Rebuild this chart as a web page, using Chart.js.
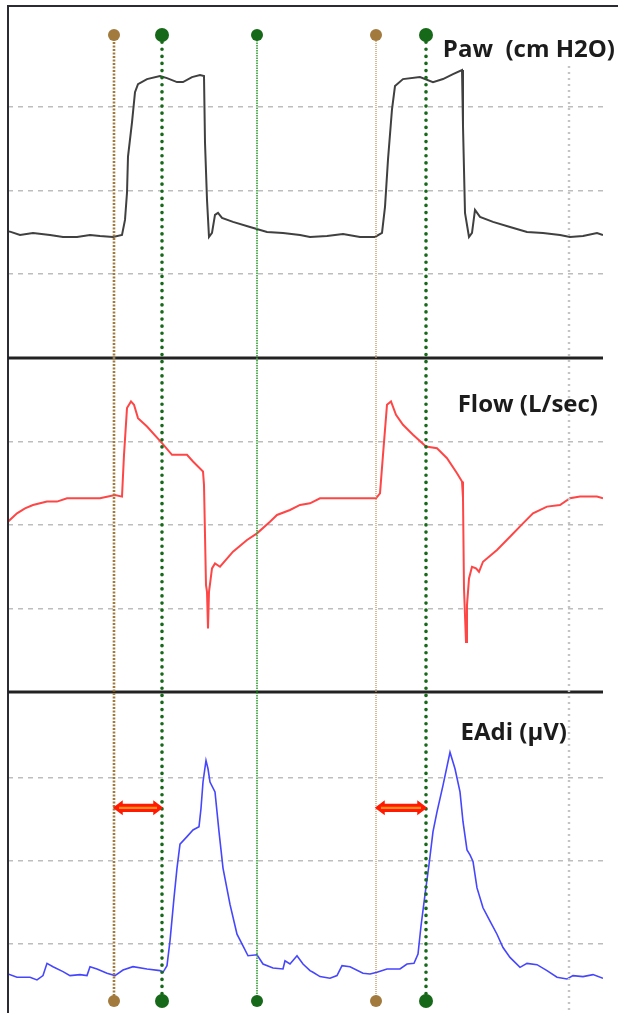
<!DOCTYPE html>
<html>
<head>
<meta charset="utf-8">
<script src="https://cdn.jsdelivr.net/npm/chart.js@4.4.1/dist/chart.umd.min.js"></script>
<style>
  html, body { margin: 0; padding: 0; background: #fff; }
  #wrap { width: 620px; height: 1013px; }
</style>
</head>
<body>
<div id="wrap"><canvas id="chart" width="620" height="1013"></canvas></div>
<script>
// time in seconds, values in the panel units
const pawTime = [0, 0.02, 0.12, 0.25, 0.42, 0.55, 0.69, 0.82, 0.92, 1.05, 1.14, 1.17, 1.19, 1.20, 1.24, 1.27, 1.30, 1.39, 1.52, 1.59, 1.69, 1.75, 1.84, 1.92, 1.96, 1.97, 1.99, 2.01, 2.04, 2.07, 2.10, 2.14, 2.25, 2.42, 2.59, 2.75, 2.92, 3.02, 3.19, 3.35, 3.52, 3.67, 3.74, 3.77, 3.80, 3.84, 3.87, 3.95, 4.12, 4.25, 4.35, 4.45, 4.54, 4.55, 4.57, 4.61, 4.64, 4.67, 4.72, 4.85, 5.02, 5.19, 5.35, 5.52, 5.62, 5.75, 5.89, 5.95];
const pawValues = [5.1, 5.08, 4.68, 4.92, 4.68, 4.44, 4.44, 4.68, 4.56, 4.44, 4.68, 6.48, 9.72, 14.04, 18.12, 21.72, 22.68, 23.28, 23.64, 23.4, 22.92, 22.92, 23.52, 23.76, 23.64, 15.72, 8.88, 4.44, 4.92, 7.08, 7.32, 6.72, 6.24, 5.64, 5.04, 4.92, 4.68, 4.44, 4.56, 4.8, 4.44, 4.44, 4.92, 8.04, 13.68, 19.68, 22.44, 23.28, 23.52, 22.92, 23.28, 23.88, 24.36, 17.64, 7.32, 4.44, 4.92, 7.68, 6.84, 6.24, 5.64, 5.04, 4.92, 4.68, 4.44, 4.56, 4.92, 4.68];

const flowTime = [0, 0.09, 0.17, 0.25, 0.39, 0.49, 0.59, 0.92, 1.07, 1.14, 1.16, 1.19, 1.23, 1.26, 1.30, 1.39, 1.54, 1.64, 1.79, 1.85, 1.95, 1.96, 1.98, 1.99, 2.00, 2.01, 2.04, 2.07, 2.12, 2.25, 2.39, 2.49, 2.62, 2.69, 2.82, 2.92, 3.02, 3.12, 3.35, 3.68, 3.72, 3.75, 3.79, 3.83, 3.88, 3.95, 4.05, 4.18, 4.29, 4.39, 4.49, 4.54, 4.55, 4.56, 4.58, 4.59, 4.61, 4.64, 4.68, 4.71, 4.75, 4.89, 5.02, 5.15, 5.25, 5.39, 5.52, 5.62, 5.72, 5.89, 5.95];
const flowValues = [0.02, 0.07, 0.10, 0.12, 0.14, 0.14, 0.16, 0.16, 0.18, 0.17, 0.42, 0.70, 0.74, 0.72, 0.64, 0.59, 0.49, 0.42, 0.42, 0.38, 0.32, 0.24, -0.36, -0.40, -0.62, -0.40, -0.26, -0.23, -0.25, -0.16, -0.09, -0.05, 0.02, 0.06, 0.09, 0.12, 0.13, 0.16, 0.16, 0.16, 0.19, 0.42, 0.72, 0.74, 0.66, 0.60, 0.54, 0.47, 0.46, 0.40, 0.31, 0.26, 0.16, -0.38, -0.70, -0.48, -0.32, -0.25, -0.26, -0.28, -0.22, -0.15, -0.07, 0.01, 0.07, 0.11, 0.12, 0.16, 0.17, 0.17, 0.16];

const eadiTime = [0, 0.09, 0.22, 0.29, 0.35, 0.39, 0.45, 0.55, 0.62, 0.72, 0.79, 0.82, 0.89, 0.99, 1.07, 1.15, 1.25, 1.39, 1.52, 1.55, 1.59, 1.62, 1.66, 1.69, 1.72, 1.79, 1.85, 1.91, 1.93, 1.95, 1.98, 2.00, 2.02, 2.07, 2.11, 2.15, 2.22, 2.29, 2.35, 2.40, 2.49, 2.55, 2.65, 2.75, 2.77, 2.82, 2.89, 2.95, 3.02, 3.05, 3.12, 3.22, 3.29, 3.34, 3.42, 3.55, 3.62, 3.69, 3.79, 3.92, 3.99, 4.06, 4.10, 4.13, 4.17, 4.21, 4.25, 4.29, 4.35, 4.42, 4.47, 4.52, 4.55, 4.59, 4.62, 4.65, 4.69, 4.75, 4.82, 4.89, 4.95, 5.02, 5.12, 5.19, 5.29, 5.39, 5.49, 5.59, 5.65, 5.75, 5.85, 5.95];
const eadiValues = [3.16, 2.96, 2.96, 2.8, 3.06, 3.8, 3.6, 3.3, 3.06, 3.12, 3.06, 3.6, 3.46, 3.2, 3.06, 3.4, 3.6, 3.46, 3.36, 3.26, 3.66, 5.16, 7.76, 9.56, 11.0, 11.46, 11.86, 12.06, 13.16, 14.76, 16.06, 15.56, 14.76, 14.16, 11.76, 9.56, 7.36, 5.56, 4.86, 4.26, 4.32, 3.76, 3.52, 3.46, 3.96, 3.76, 4.26, 3.76, 3.36, 3.26, 3.0, 2.9, 3.06, 3.66, 3.6, 3.2, 3.16, 3.26, 3.46, 3.46, 3.76, 3.8, 4.36, 6.06, 7.96, 9.76, 11.76, 12.96, 14.56, 16.56, 15.56, 14.16, 12.36, 10.66, 10.36, 9.96, 8.36, 7.16, 6.36, 5.56, 4.76, 4.16, 3.56, 3.8, 3.72, 3.36, 2.96, 2.86, 3.06, 3.0, 3.12, 2.9];

const pawTicks = [0, 10, 20];
const flowTicks = [-0.5, 0, 0.5];
const eadiTicks = [5, 10, 15];

// cursors: brown = start of effort, green = ventilator trigger
const cursorTimes = [1.06, 1.54, 2.49, 3.68, 4.18];
const cursorKinds = ['brown', 'green', 'thin', 'brownThin', 'green'];
const dottedGridTime = 5.61;
const delayPairs = [[1.06, 1.54], [3.68, 4.18]];
const panelLabels = ['Paw  (cm H2O)', 'Flow (L/sec)', 'EAdi (µV)'];

function toPoints(xs, ys) {
  return xs.map((t, i) => ({ x: t, y: ys[i] }));
}

const cursorStyle = {
  brown:     { color: '#a27a3e', dot: '#a27a3e', width: 2.6, dash: [2, 1.5], cap: 'butt', r: 6 },
  brownThin: { color: '#c4955c', dot: '#a27a3e', width: 1.3, dash: [1, 1], cap: 'butt', r: 6 },
  green:     { color: '#17691a', dot: '#17691a', width: 3.6, dash: [0.1, 7], cap: 'round', r: 7 },
  thin:      { color: '#2f9e2f', dot: '#17691a', width: 1.6, dash: [1.5, 1], cap: 'butt', r: 6 }
};

function drawArrow(ctx, x1, x2, y) {
  const h = 6, s = 3.4, len = 8;
  ctx.beginPath();
  ctx.moveTo(x1, y);
  ctx.lineTo(x1 + len, y - h);
  ctx.lineTo(x1 + len, y - s);
  ctx.lineTo(x2 - len, y - s);
  ctx.lineTo(x2 - len, y - h);
  ctx.lineTo(x2, y);
  ctx.lineTo(x2 - len, y + h);
  ctx.lineTo(x2 - len, y + s);
  ctx.lineTo(x1 + len, y + s);
  ctx.lineTo(x1 + len, y + h);
  ctx.closePath();
  ctx.fillStyle = '#ff1a00';
  ctx.fill();
  ctx.strokeStyle = '#ff1a00';
  ctx.lineWidth = 1.5;
  ctx.stroke();
  ctx.strokeStyle = '#ff8c1a';
  ctx.lineWidth = 2.2;
  ctx.beginPath();
  ctx.moveTo(x1 + 5, y);
  ctx.lineTo(x2 - 5, y);
  ctx.stroke();
}

const overlay = {
  id: 'overlay',
  afterDatasetsDraw(chart) {
    const ctx = chart.ctx;
    const area = chart.chartArea;
    const sx = chart.scales.x;
    const yP = chart.scales.yP, yF = chart.scales.yF, yE = chart.scales.yE;
    ctx.save();

    // frame
    ctx.strokeStyle = '#2b2b33';
    ctx.lineWidth = 2;
    ctx.beginPath();
    ctx.moveTo(area.left, chart.height);
    ctx.lineTo(area.left, area.top);
    ctx.lineTo(chart.width - 2, area.top);
    ctx.stroke();

    // panel separators
    ctx.strokeStyle = '#222';
    ctx.lineWidth = 3;
    [yP.bottom, yF.bottom].forEach(function(y) {
      ctx.beginPath();
      ctx.moveTo(area.left, y);
      ctx.lineTo(area.right, y);
      ctx.stroke();
    });

    // grey dotted vertical grid
    const gx = sx.getPixelForValue(dottedGridTime);
    ctx.strokeStyle = '#c4c4c4';
    ctx.lineWidth = 2.4;
    ctx.setLineDash([2, 4]);
    ctx.beginPath();
    ctx.moveTo(gx, area.top + 60);
    ctx.lineTo(gx, area.bottom);
    ctx.stroke();

    // cursors
    cursorTimes.forEach(function(t, i) {
      const st = cursorStyle[cursorKinds[i]];
      const x = sx.getPixelForValue(t);
      const y1 = area.top + 29, y2 = area.bottom - 12;
      ctx.strokeStyle = st.color;
      ctx.lineWidth = st.width;
      ctx.lineCap = st.cap;
      ctx.setLineDash(st.dash);
      ctx.beginPath();
      ctx.moveTo(x, y1);
      ctx.lineTo(x, y2);
      ctx.stroke();
      ctx.setLineDash([]);
      ctx.fillStyle = st.dot;
      [y1, y2].forEach(function(y) {
        ctx.beginPath();
        ctx.arc(x, y, st.r, 0, Math.PI * 2);
        ctx.fill();
      });
    });
    ctx.lineCap = 'butt';

    // delay arrows in EAdi panel
    const ay = yE.getPixelForValue(13.2);
    delayPairs.forEach(function(p) {
      drawArrow(ctx, sx.getPixelForValue(p[0]), sx.getPixelForValue(p[1]), ay);
    });

    // panel titles
    ctx.fillStyle = '#1c1c1c';
    ctx.font = 'bold 24px "Open Sans"';
    ctx.textBaseline = 'middle';
    ctx.textAlign = 'right';
    ctx.fillText(panelLabels[0], 615, yP.top + 44);
    ctx.fillText(panelLabels[1], 598, yF.top + 47);
    ctx.fillText(panelLabels[2], 567, yE.top + 41);

    ctx.restore();
  }
};

function yAxis(stackWeight, weight, min, max, ticks) {
  return {
    type: 'linear',
    position: 'left',
    stack: 'panels',
    stackWeight: stackWeight,
    weight: weight,
    min: min,
    max: max,
    afterBuildTicks: function(axis) {
      axis.ticks = ticks.map(function(v) { return { value: v }; });
    },
    ticks: { display: false },
    border: { display: false, dash: [5, 5] },
    grid: { drawTicks: false, color: '#bdbdbd', lineWidth: 1.5 }
  };
}

const ctx = document.getElementById('chart').getContext('2d');
const chart = new Chart(ctx, {
  type: 'line',
  data: {
    datasets: [
      { label: 'Paw', data: toPoints(pawTime, pawValues), yAxisID: 'yP', borderColor: '#404040', borderWidth: 2 },
      { label: 'Flow', data: toPoints(flowTime, flowValues), yAxisID: 'yF', borderColor: '#ff4646', borderWidth: 2 },
      { label: 'EAdi', data: toPoints(eadiTime, eadiValues), yAxisID: 'yE', borderColor: '#4646ff', borderWidth: 1.6 }
    ]
  },
  options: {
    responsive: false,
    animation: false,
    devicePixelRatio: 1,
    layout: { padding: { left: 8, top: 6, right: 17, bottom: 0 } },
    elements: { point: { radius: 0 }, line: { tension: 0 } },
    plugins: { legend: { display: false }, tooltip: { enabled: false } },
    scales: {
      x: { type: 'linear', min: 0, max: 5.95, display: false },
      yE: yAxis(321, 1, 0.8, 20.2, eadiTicks),
      yF: yAxis(334, 2, -1, 1, flowTicks),
      yP: yAxis(352, 3, -10, 32, pawTicks)
    }
  },
  plugins: [overlay]
});
</script>
</body>
</html>
